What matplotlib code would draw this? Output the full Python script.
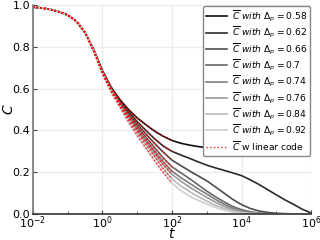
import numpy as np
import matplotlib
matplotlib.use("Agg")
import matplotlib.pyplot as plt
from matplotlib.ticker import NullFormatter

# log10(t) sample points, quarter decades from 1e-2 to 1e6
log_t = [-2, -1.75, -1.5, -1.25, -1, -0.75, -0.5,
         -0.25, 0, 0.25, 0.5, 0.75, 1, 1.25, 1.5, 1.75, 2, 2.25, 2.5, 2.75,
         3, 3.25, 3.5, 3.75, 4, 4.25, 4.5, 4.75, 5, 5.25, 5.5, 5.75, 6]

# shared early part (t <= 0.3)
early = [0.99, 0.986, 0.979, 0.968, 0.952, 0.922, 0.868]

deltas = [0.58, 0.62, 0.66, 0.7, 0.74, 0.76, 0.84, 0.92]

c_058 = early + [0.785, 0.685, 0.607, 0.548, 0.50, 0.46, 0.427, 0.397, 0.372, 0.352, 0.339, 0.33, 0.323,
                 0.318, 0.315, 0.313, 0.312, 0.311, 0.311, 0.31, 0.31, 0.31, 0.31, 0.31, 0.31, 0.31]
c_062 = early + [0.784, 0.683, 0.603, 0.541, 0.49, 0.442, 0.40, 0.36, 0.325, 0.30, 0.283, 0.267, 0.25,
                 0.234, 0.221, 0.209, 0.197, 0.184, 0.164, 0.142, 0.117, 0.092, 0.068, 0.046, 0.023, 0.005]
c_066 = early + [0.783, 0.681, 0.60, 0.535, 0.48, 0.43, 0.383, 0.338, 0.296, 0.258, 0.232, 0.207, 0.183,
                 0.159, 0.13, 0.10, 0.07, 0.045, 0.027, 0.015, 0.008, 0.004, 0.002, 0.001, 0.0, 0.0]
c_070 = early + [0.782, 0.679, 0.597, 0.53, 0.472, 0.418, 0.368, 0.318, 0.268, 0.226, 0.198, 0.17, 0.14,
                 0.11, 0.083, 0.058, 0.036, 0.021, 0.011, 0.005, 0.002, 0.001, 0.0, 0.0, 0.0, 0.0]
c_074 = early + [0.781, 0.677, 0.594, 0.525, 0.465, 0.408, 0.355, 0.302, 0.25, 0.205, 0.175, 0.148, 0.121,
                 0.096, 0.07, 0.047, 0.028, 0.015, 0.007, 0.003, 0.001, 0.0, 0.0, 0.0, 0.0, 0.0]
c_076 = early + [0.78, 0.675, 0.591, 0.521, 0.459, 0.40, 0.345, 0.29, 0.236, 0.19, 0.158, 0.13, 0.104,
                 0.08, 0.057, 0.037, 0.022, 0.011, 0.005, 0.002, 0.001, 0.0, 0.0, 0.0, 0.0, 0.0]
c_084 = early + [0.779, 0.673, 0.588, 0.516, 0.452, 0.39, 0.332, 0.275, 0.217, 0.168, 0.135, 0.108, 0.084,
                 0.062, 0.042, 0.027, 0.015, 0.007, 0.003, 0.001, 0.0, 0.0, 0.0, 0.0, 0.0, 0.0]
c_092 = early + [0.778, 0.671, 0.585, 0.512, 0.44, 0.375, 0.315, 0.255, 0.198, 0.148, 0.113, 0.087, 0.066,
                 0.048, 0.032, 0.019, 0.01, 0.005, 0.002, 0.001, 0.0, 0.0, 0.0, 0.0, 0.0, 0.0]

curves = [c_058, c_062, c_066, c_070, c_074, c_076, c_084, c_092]
t = 10.0 ** np.array(log_t)
n_lin = 17  # linear code run covers t <= 1e2

fig = plt.figure(figsize=(3.2, 2.4), dpi=100)
ax = fig.add_axes([0.103, 0.108, 0.869, 0.871])

greys = plt.cm.Greys(np.linspace(0.95, 0.3, len(deltas)))
for d, c, col in zip(deltas, curves, greys):
    ax.plot(t, c, color=col, lw=1.2, label=r"$\overline{C}\ with\ \Delta_p = %s$" % d)

for i, c in enumerate(curves):
    ax.plot(t[:n_lin], c[:n_lin], color="red", ls=":", lw=1.0, alpha=0.85,
            label=r"$\overline{C}$ w linear code" if i == 0 else None)

ax.set_xscale("log")
ax.set_xlim(1e-2, 1e6)
ax.set_ylim(0, 1.0)
ax.set_xticks([1e-2, 1e0, 1e2, 1e4, 1e6])
ax.set_xticks([1e-1, 1e1, 1e3, 1e5], minor=True)
ax.xaxis.set_minor_formatter(NullFormatter())
ax.set_yticks([0, 0.2, 0.4, 0.6, 0.8, 1.0])
ax.tick_params(direction="in", labelsize=8, pad=2, length=3, color="#444")
ax.tick_params(axis="x", pad=0.5)
ax.tick_params(which="minor", direction="in", length=2, color="#444")
ax.grid(True, which="major", color="#ebebeb", lw=0.8)

for s in ["top", "right"]:
    ax.spines[s].set_visible(False)
ax.spines["left"].set_color("#777")
ax.spines["bottom"].set_color("#333")
ax.spines["left"].set_linewidth(1.2)
ax.spines["bottom"].set_linewidth(1.2)

ax.set_xlabel(r"$t$", fontsize=10)
ax.set_ylabel(r"$\overline{C}$", fontsize=10)
ax.xaxis.set_label_coords(0.5, -0.062)
ax.yaxis.set_label_coords(-0.055, 0.5)

leg = ax.legend(loc="upper right", fontsize=6.6, framealpha=1, edgecolor="#888",
                labelspacing=0.1, handlelength=2.3, handletextpad=0.6,
                borderpad=0.3, borderaxespad=0.1)

fig.savefig("out.png", dpi=100)
